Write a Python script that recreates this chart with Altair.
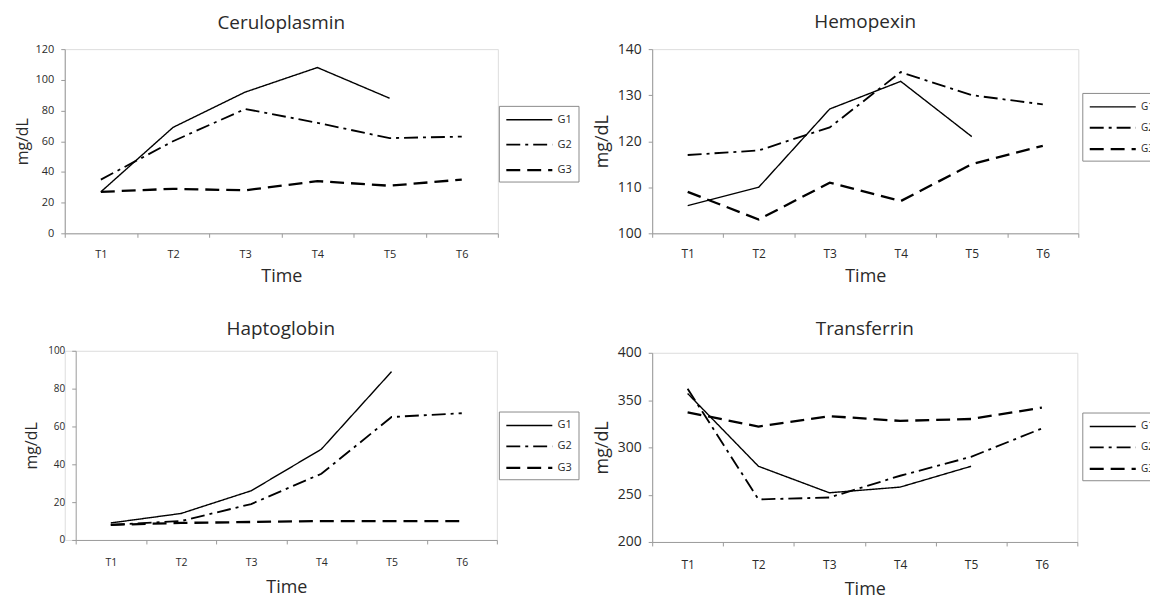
import altair as alt
import pandas as pd

times = ["T1", "T2", "T3", "T4", "T5", "T6"]
groups = ["G1", "G2", "G3"]

cer_g1 = [27, 69, 92, 108, 88, None]
cer_g2 = [35, 60, 81, 72, 62, 63]
cer_g3 = [27, 29, 28, 34, 31, 35]

hem_g1 = [106, 110, 127, 133, 121, None]
hem_g2 = [117, 118, 123, 135, 130, 128]
hem_g3 = [109, 103, 111, 107, 115, 119]

hap_g1 = [9, 14, 26, 48, 89, None]
hap_g2 = [8, 10, 19, 35, 65, 67]
hap_g3 = [8, 9, 9.5, 10, 10, 10]

tra_g1 = [357, 280, 252, 258, 280, None]
tra_g2 = [362, 245, 247, 270, 290, 320]
tra_g3 = [337, 322, 333, 328, 330, 342]

FONT = "Open Sans"
TXT = "#2a2a2a"
AX = "#9a9a9a"
SYMBOL = "M-1,0H5.6"


def frame(g1, g2, g3):
    rows = []
    for g, vals in zip(groups, [g1, g2, g3]):
        for t, v in zip(times, vals):
            if v is not None:
                rows.append({"Time": t, "Group": g, "Value": v})
    return pd.DataFrame(rows)


def panel(title, df, ymin, ymax, step, w, h, shift, ylab, ytitle, ytp, xlab,
          lx, ly, row_pad, ttl_offset, leg_font, xlp, xtp):
    ticks = list(range(ymin, ymax + 1, step))
    leg = alt.Legend(title=None, orient="none", legendX=lx + shift, legendY=ly,
                     symbolType=SYMBOL, symbolSize=196, symbolStrokeColor="black",
                     labelFontSize=leg_font, labelColor=TXT, labelFont=FONT,
                     rowPadding=row_pad, padding=6, strokeColor="#8a8a8a", fillColor="white",
                     labelOffset=36)
    yaxis = dict(title="mg/dL", values=ticks, grid=False, domainColor=AX,
                 tickColor=AX, tickSize=4, labelFontSize=ylab, labelColor=TXT,
                 labelPadding=7, titleFontSize=ytitle, titleFontWeight="normal",
                 titleColor=TXT, titlePadding=ytp, labelFont=FONT, titleFont=FONT)
    if shift:
        yaxis["offset"] = -shift
    return alt.Chart(df).mark_line(color="black").encode(
        x=alt.X("Time:N", sort=times,
                scale=alt.Scale(type="band", domain=times, range=[shift, shift + w],
                                paddingInner=0, paddingOuter=0),
                axis=alt.Axis(title="Time", labelAngle=0, tickBand="extent", domainColor=AX,
                              tickColor=AX, tickSize=4, labelFontSize=xlab, labelColor=TXT,
                              labelPadding=xlp, titleFontSize=18, titleFontWeight="normal",
                              titleColor=TXT, titlePadding=xtp, labelFont=FONT, titleFont=FONT)),
        y=alt.Y("Value:Q",
                scale=alt.Scale(domain=[ymin, ymax], nice=False, zero=False),
                axis=alt.Axis(**yaxis)),
        strokeDash=alt.StrokeDash("Group:N",
                                  scale=alt.Scale(domain=groups, range=[[1, 0], [14, 5, 3, 5], [14, 7]]),
                                  legend=leg),
        strokeWidth=alt.StrokeWidth("Group:N",
                                    scale=alt.Scale(domain=groups, range=[1.4, 2.3, 2.1]),
                                    legend=leg),
    ).properties(
        width=w + shift, height=h,
        title=alt.TitleParams(title, fontSize=19, font=FONT, fontWeight="normal", color=TXT,
                              offset=ttl_offset, anchor="middle"),
    )


cer = panel("Ceruloplasmin", frame(cer_g1, cer_g2, cer_g3), 0, 120, 20, 435, 185, 0,
            11, 16, 5, 11, 436, 57, 12, 10, 11, 11, 8)
hap = panel("Haptoglobin", frame(hap_g1, hap_g2, hap_g3), 0, 100, 20, 423, 190, 11,
            10, 16, 8, 10.5, 425, 61, 8, 7, 11, 14, 10)
hem = panel("Hemopexin", frame(hem_g1, hem_g2, hem_g3), 100, 140, 10, 428, 185, 0,
            14, 18, 6, 12, 432, 44, 8, 10, 10, 11, 8)
tra = panel("Transferrin", frame(tra_g1, tra_g2, tra_g3), 200, 400, 50, 427, 190, 0,
            14, 18, 6, 12, 432, 60, 8, 7, 10, 14, 10)

left = alt.vconcat(cer, hap, spacing=33).resolve_legend(
    strokeDash="independent", strokeWidth="independent").resolve_scale(y="independent", x="independent")
right = alt.vconcat(hem, tra, spacing=33).resolve_legend(
    strokeDash="independent", strokeWidth="independent").resolve_scale(y="independent", x="independent")

chart = alt.hconcat(left, right, spacing=13).resolve_legend(
    strokeDash="independent", strokeWidth="independent"
).resolve_scale(y="independent", x="independent").properties(
    padding={"left": 5, "top": 3, "right": -11, "bottom": 0}
).configure_view(stroke=None).configure(background="white")

chart.save("out.html", embed_options={"renderer": "svg", "actions": False})
